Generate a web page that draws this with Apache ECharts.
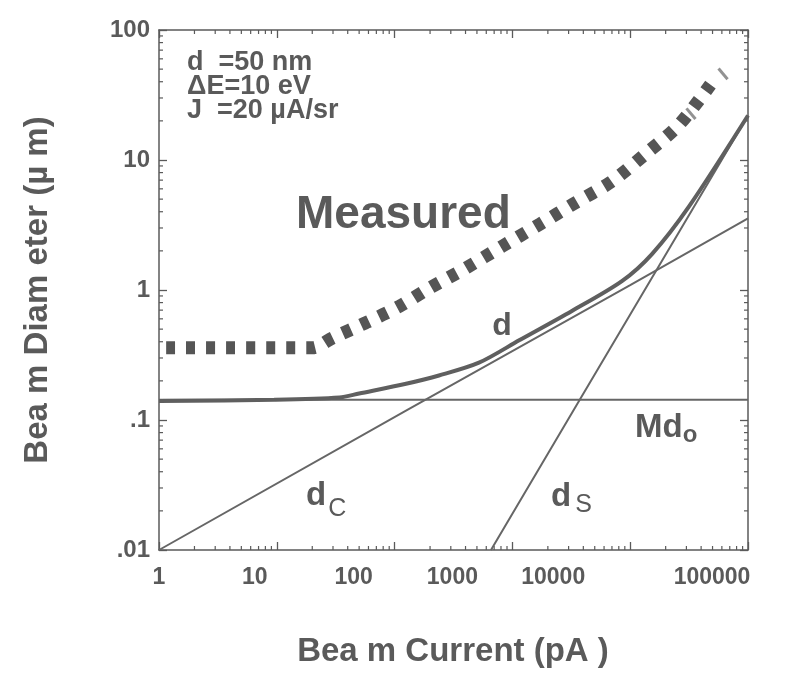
<!DOCTYPE html>
<html>
<head>
<meta charset="utf-8">
<script src="https://cdn.jsdelivr.net/npm/echarts@6/dist/echarts.min.js"></script>
<style>
html,body{margin:0;padding:0;background:#fff;}
#chart{width:790px;height:674px;}
</style>
</head>
<body>
<div id="chart"></div>
<script>
// ---- data (x: beam current pA, y: beam diameter um) ----
var xTickValues = [1, 10, 100, 1000, 10000, 100000];
var xTickLabels = ['1', '10', '100', '1000', '10000', '100000'];
var yTickValues = [0.01, 0.1, 1, 10, 100];
var yTickLabels = ['.01', '.1', '1', '10', '100'];

var measuredX = [1.15, 20, 30, 57, 110, 200, 400, 820, 1700, 3300, 6900, 13600, 26000, 48000];
var measuredY = [0.36, 0.36, 0.43, 0.56, 0.75, 1.04, 1.47, 2.17, 3.2, 4.6, 6.8, 11.2, 18.7, 38];

var dX = [1, 9.5, 34, 50, 125, 238, 520, 1140, 3200, 8500, 15300, 31600, 100000];
var dY = [0.14, 0.143, 0.149, 0.16, 0.19, 0.22, 0.276, 0.41, 0.69, 1.17, 1.89, 4.4, 22];

var mdoX = [1, 100000];
var mdoY = [0.143, 0.143];

var dcX = [1, 125, 10000, 100000];
var dcY = [0.01, 0.118, 1.09, 3.56];

var dsX = [658, 3500, 100000];
var dsY = [0.01, 0.13, 22];

var slashX = [32800, 61400];
var slashY = [22.7, 46];

var xMinorTicks = [];
var yMinorTicks = [];
[1, 10, 100, 1000, 10000].forEach(function (b) { for (var k = 2; k <= 9; k++) xMinorTicks.push(b * k); });
[0.01, 0.1, 1, 10].forEach(function (b) { for (var k = 2; k <= 9; k++) yMinorTicks.push(+(b * k).toPrecision(3)); });

// style: leftward shift (px) of each x tick label as printed in the original figure
var xLabelShift = [0, 22, 41, 60, 77, 36];

function zip(a, b) { return a.map(function (v, i) { return [v, b[i]]; }); }

var INK = '#5a5a5a';
var FONT = '"Liberation Sans", Arial, Helvetica, sans-serif';

function idxOf(values, v) {
  for (var i = 0; i < values.length; i++) {
    if (Math.abs(Math.log10(v) - Math.log10(values[i])) < 1e-6) return i;
  }
  return -1;
}

var xRich = {};
xLabelShift.forEach(function (s, i) {
  xRich['o' + i] = { color: INK, fontFamily: FONT, fontWeight: 'bold', fontSize: 23, padding: [0, 2 * s, 0, 0] };
});

var chart = echarts.init(document.getElementById('chart'), null, { renderer: 'canvas' });

var axisCommon = {
  type: 'log', logBase: 10,
  axisLine: { show: true, lineStyle: { color: INK, width: 1.5 } },
  axisTick: { show: true, inside: true, length: 8, lineStyle: { color: INK, width: 1.3 } },
  splitLine: { show: false },
  minorTick: { show: false },
  minorSplitLine: { show: false }
};

function minorRender(isX) {
  return function (params, api) {
    var cs = params.coordSys;
    var kids = [];
    var st = { stroke: INK, lineWidth: 1.2 };
    if (isX) {
      var x = api.coord([api.value(0), 1])[0];
      kids.push({ type: 'line', shape: { x1: x, y1: cs.y + cs.height, x2: x, y2: cs.y + cs.height - 4 }, style: st });
      kids.push({ type: 'line', shape: { x1: x, y1: cs.y, x2: x, y2: cs.y + 4 }, style: st });
    } else {
      var y = api.coord([1, api.value(0)])[1];
      kids.push({ type: 'line', shape: { x1: cs.x, y1: y, x2: cs.x + 4, y2: y }, style: st });
      kids.push({ type: 'line', shape: { x1: cs.x + cs.width, y1: y, x2: cs.x + cs.width - 4, y2: y }, style: st });
    }
    return { type: 'group', children: kids };
  };
}

var option = {
  backgroundColor: '#fff',
  animation: false,
  grid: { left: 159, right: 42, top: 30, bottom: 124, containLabel: false },
  xAxis: [
    Object.assign({}, axisCommon, {
      position: 'bottom', min: 1, max: 100000,
      axisLabel: { show: true, margin: 16, color: INK, fontFamily: FONT, fontWeight: 'bold', fontSize: 23,
        rich: xRich,
        formatter: function (v) {
          var i = idxOf(xTickValues, v);
          return i < 0 ? '' : '{o' + i + '|' + xTickLabels[i] + '}';
        } }
    }),
    Object.assign({}, axisCommon, {
      position: 'top', min: 1, max: 100000, axisLabel: { show: false }
    })
  ],
  yAxis: [
    Object.assign({}, axisCommon, {
      position: 'left', min: 0.01, max: 100,
      axisLabel: { show: true, margin: 9, color: INK, fontFamily: FONT, fontWeight: 'bold', fontSize: 24,
        formatter: function (v) { var i = idxOf(yTickValues, v); return i < 0 ? '' : yTickLabels[i]; } }
    }),
    Object.assign({}, axisCommon, {
      position: 'right', min: 0.01, max: 100, axisLabel: { show: false }
    })
  ],
  series: [
    { type: 'custom', name: 'xminor', xAxisIndex: 0, yAxisIndex: 0, silent: true,
      renderItem: minorRender(true), data: xMinorTicks.map(function (v) { return [v]; }), clip: false },
    { type: 'custom', name: 'yminor', xAxisIndex: 0, yAxisIndex: 0, silent: true,
      renderItem: minorRender(false), data: yMinorTicks.map(function (v) { return [v]; }), clip: false },
    { type: 'line', name: 'Mdo', data: zip(mdoX, mdoY), showSymbol: false,
      lineStyle: { color: '#666', width: 2 } },
    { type: 'line', name: 'dC', data: zip(dcX, dcY), showSymbol: false,
      lineStyle: { color: '#666', width: 2 } },
    { type: 'line', name: 'dS', data: zip(dsX, dsY), showSymbol: false,
      lineStyle: { color: '#666', width: 2 } },
    { type: 'line', name: 'd', data: zip(dX, dY), showSymbol: false, smooth: 0.3,
      lineStyle: { color: '#5f5f5f', width: 4 } },
    { type: 'line', name: 'Measured', data: zip(measuredX, measuredY), showSymbol: false, smooth: 0.3,
      lineStyle: { color: '#555', width: 13, type: [9, 11], cap: 'butt' } },
    { type: 'scatter', name: 'marks', data: zip(slashX, slashY), symbol: 'rect',
      symbolSize: [14, 3], symbolRotate: -50, itemStyle: { color: '#777' } }
  ],
  graphic: [
    { type: 'text', x: 38, y: 290, rotation: Math.PI / 2,
      style: { text: 'Bea m Diam eter (\u00b5 m)', fill: INK, font: 'bold 33px ' + FONT, textAlign: 'center', textVerticalAlign: 'middle' } },
    { type: 'text', x: 453, y: 652,
      style: { text: 'Bea m Current (pA )', fill: INK, font: 'bold 33px ' + FONT, textAlign: 'center', textVerticalAlign: 'middle' } },
    { type: 'text', x: 187, y: 63,
      style: { text: 'd  =50 nm', fill: INK, font: 'bold 27px ' + FONT, textAlign: 'left', textVerticalAlign: 'middle' } },
    { type: 'text', x: 187, y: 87,
      style: { text: '\u0394E=10 eV', fill: INK, font: 'bold 27px ' + FONT, textAlign: 'left', textVerticalAlign: 'middle' } },
    { type: 'text', x: 187, y: 111,
      style: { text: 'J  =20 \u00b5A/sr', fill: INK, font: 'bold 27px ' + FONT, textAlign: 'left', textVerticalAlign: 'middle' } },
    { type: 'text', x: 296, y: 215,
      style: { text: 'Measured', fill: INK, font: 'bold 46px ' + FONT, textAlign: 'left', textVerticalAlign: 'middle' } },
    { type: 'text', x: 502, y: 326,
      style: { text: 'd', fill: INK, font: 'bold 32px ' + FONT, textAlign: 'center', textVerticalAlign: 'middle' } },
    { type: 'text', x: 635, y: 428,
      style: { text: '{a|Md}{b|o}', fill: INK, textAlign: 'left', textVerticalAlign: 'middle',
        rich: { a: { fill: INK, font: 'bold 33px ' + FONT }, b: { fill: INK, font: 'bold 24px ' + FONT, padding: [14, 0, 0, 0] } } } },
    { type: 'text', x: 306, y: 496,
      style: { text: '{a|d}{b|C}', fill: INK, textAlign: 'left', textVerticalAlign: 'middle',
        rich: { a: { fill: INK, font: 'bold 33px ' + FONT }, b: { fill: INK, font: '25px ' + FONT, padding: [26, 0, 0, 2] } } } },
    { type: 'text', x: 551, y: 497,
      style: { text: '{a|d}{b|S}', fill: INK, textAlign: 'left', textVerticalAlign: 'middle',
        rich: { a: { fill: INK, font: 'bold 33px ' + FONT }, b: { fill: INK, font: '25px ' + FONT, padding: [16, 0, 0, 4] } } } }
  ]
};

chart.setOption(option);
</script>
</body>
</html>
